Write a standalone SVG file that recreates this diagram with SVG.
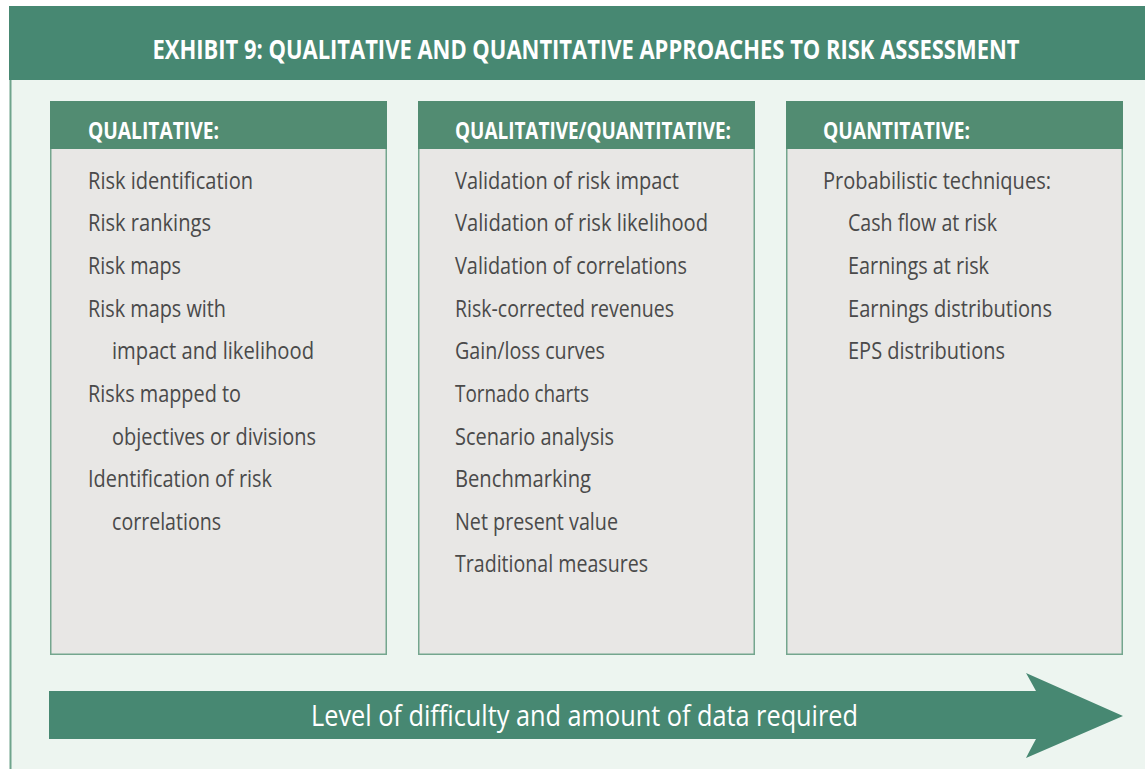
<svg xmlns="http://www.w3.org/2000/svg" width="1145" height="769" viewBox="0 0 1145 769">
<style>
.title{font-family:"Open Sans","Liberation Sans",sans-serif;font-weight:bold;font-size:27px;fill:#ffffff}
.hdr{font-family:"Open Sans","Liberation Sans",sans-serif;font-weight:bold;font-size:23px;fill:#ffffff}
.item{font-family:"Open Sans","Liberation Sans",sans-serif;font-size:24px;fill:#4a4a4a}
.arrowtxt{font-family:"Open Sans","Liberation Sans",sans-serif;font-size:30px;fill:#ffffff}
.hbar{fill:#528c72}
.body{fill:#e8e7e5;stroke:#74a68e;stroke-width:1.5}
</style>
<rect x="0" y="0" width="1145" height="769" fill="#ffffff"/>
<rect x="10" y="6" width="1135" height="763" fill="#edf5f0"/>
<line x1="10.5" y1="78" x2="10.5" y2="769" stroke="#6fa48c" stroke-width="2"/>
<rect x="9" y="6" width="1136" height="74" fill="#478872"/>
<text class="title" x="586" y="59" text-anchor="middle" textLength="867" lengthAdjust="spacingAndGlyphs">EXHIBIT 9: QUALITATIVE AND QUANTITATIVE APPROACHES TO RISK ASSESSMENT</text>

<g id="qualitative">
<rect class="body" x="50.75" y="101.75" width="335.5" height="552.5"/>
<rect class="hbar" x="50" y="101" width="337" height="48"/>
<text class="hdr" x="88" y="139" textLength="131" lengthAdjust="spacingAndGlyphs">QUALITATIVE:</text>
<text class="item" x="88" y="189" textLength="165" lengthAdjust="spacingAndGlyphs">Risk identification</text>
<text class="item" x="88" y="231" textLength="123" lengthAdjust="spacingAndGlyphs">Risk rankings</text>
<text class="item" x="88" y="274" textLength="93" lengthAdjust="spacingAndGlyphs">Risk maps</text>
<text class="item" x="88" y="317" textLength="138" lengthAdjust="spacingAndGlyphs">Risk maps with</text>
<text class="item" x="112" y="359" textLength="202" lengthAdjust="spacingAndGlyphs">impact and likelihood</text>
<text class="item" x="88" y="402" textLength="153" lengthAdjust="spacingAndGlyphs">Risks mapped to</text>
<text class="item" x="112" y="445" textLength="204" lengthAdjust="spacingAndGlyphs">objectives or divisions</text>
<text class="item" x="88" y="487" textLength="184" lengthAdjust="spacingAndGlyphs">Identification of risk</text>
<text class="item" x="112" y="530" textLength="109" lengthAdjust="spacingAndGlyphs">correlations</text>
</g>

<g id="qualitative-quantitative">
<rect class="body" x="418.75" y="101.75" width="335.5" height="552.5"/>
<rect class="hbar" x="418" y="101" width="337" height="48"/>
<text class="hdr" x="455" y="139" textLength="276" lengthAdjust="spacingAndGlyphs">QUALITATIVE/QUANTITATIVE:</text>
<text class="item" x="455" y="189" textLength="224" lengthAdjust="spacingAndGlyphs">Validation of risk impact</text>
<text class="item" x="455" y="231" textLength="253" lengthAdjust="spacingAndGlyphs">Validation of risk likelihood</text>
<text class="item" x="455" y="274" textLength="232" lengthAdjust="spacingAndGlyphs">Validation of correlations</text>
<text class="item" x="455" y="317" textLength="219" lengthAdjust="spacingAndGlyphs">Risk-corrected revenues</text>
<text class="item" x="455" y="359" textLength="150" lengthAdjust="spacingAndGlyphs">Gain/loss curves</text>
<text class="item" x="455" y="402" textLength="134" lengthAdjust="spacingAndGlyphs">Tornado charts</text>
<text class="item" x="455" y="445" textLength="159" lengthAdjust="spacingAndGlyphs">Scenario analysis</text>
<text class="item" x="455" y="487" textLength="136" lengthAdjust="spacingAndGlyphs">Benchmarking</text>
<text class="item" x="455" y="530" textLength="163" lengthAdjust="spacingAndGlyphs">Net present value</text>
<text class="item" x="455" y="572" textLength="193" lengthAdjust="spacingAndGlyphs">Traditional measures</text>
</g>

<g id="quantitative">
<rect class="body" x="786.75" y="101.75" width="335.5" height="552.5"/>
<rect class="hbar" x="786" y="101" width="337" height="48"/>
<text class="hdr" x="823" y="139" textLength="147" lengthAdjust="spacingAndGlyphs">QUANTITATIVE:</text>
<text class="item" x="823" y="189" textLength="228" lengthAdjust="spacingAndGlyphs">Probabilistic techniques:</text>
<text class="item" x="848" y="231" textLength="149" lengthAdjust="spacingAndGlyphs">Cash flow at risk</text>
<text class="item" x="848" y="274" textLength="141" lengthAdjust="spacingAndGlyphs">Earnings at risk</text>
<text class="item" x="848" y="317" textLength="204" lengthAdjust="spacingAndGlyphs">Earnings distributions</text>
<text class="item" x="848" y="359" textLength="157" lengthAdjust="spacingAndGlyphs">EPS distributions</text>
</g>

<g id="connectors">
<path d="M49 691 L1036 691 Q1030 680 1026 673 L1123 716 L1026 758 Q1030 750 1036 739 L49 739 Z" fill="#478872"/>
<text class="arrowtxt" x="584.5" y="726" text-anchor="middle" textLength="547" lengthAdjust="spacingAndGlyphs">Level of difficulty and amount of data required</text>
</g>
</svg>
